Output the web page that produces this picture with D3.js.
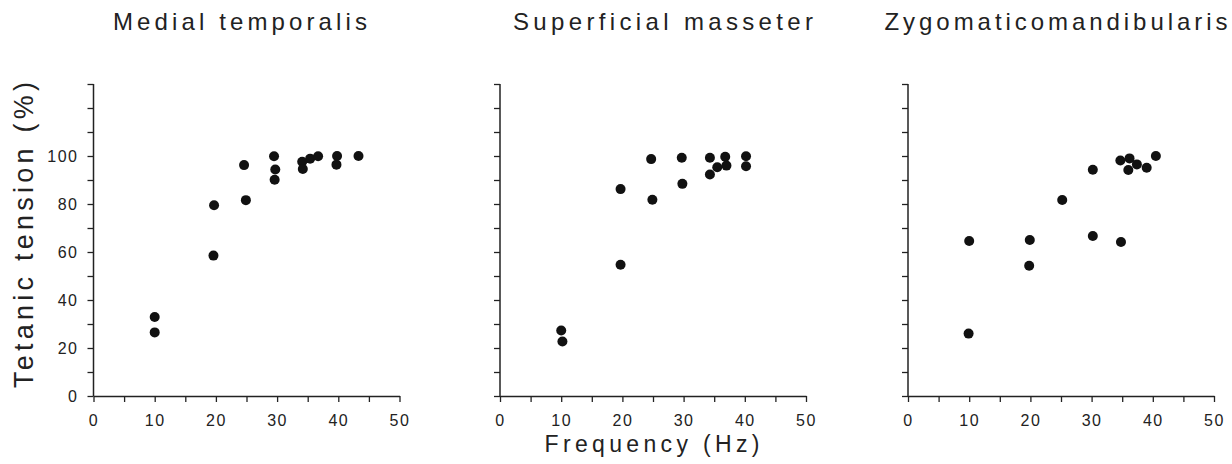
<!DOCTYPE html>
<html>
<head>
<meta charset="utf-8">
<script src="https://cdn.jsdelivr.net/npm/d3@7"></script>
<style>
  body { margin: 0; background: #fff; }
  svg text { font-family: "Liberation Sans", Arial, sans-serif; fill: #222; }
</style>
</head>
<body>
<svg id="chart" width="1232" height="464"></svg>
<script>
// panel titles
const titles = ['Medial temporalis', 'Superficial masseter', 'Zygomaticomandibularis'];

// Medial temporalis
const mtFreq    = [10, 10, 19.7, 19.6, 24.6, 24.9, 29.5, 29.7, 29.6, 34.1, 34.2, 35.4, 36.7, 39.8, 39.7, 43.3];
const mtTension = [32.9, 26.5, 79.5, 58.5, 96.2, 81.6, 99.9, 94.4, 90.1, 97.6, 94.6, 98.9, 99.9, 100, 96.4, 100];

// Superficial masseter
const smFreq    = [10, 10.2, 19.7, 19.7, 24.7, 24.9, 29.7, 29.8, 34.3, 34.3, 35.5, 36.8, 37.0, 40.2, 40.2];
const smTension = [27.3, 22.7, 86.2, 54.7, 98.7, 81.8, 99.3, 88.4, 99.3, 92.3, 95.3, 99.7, 96.0, 99.9, 95.7];

// Zygomaticomandibularis
const zmFreq    = [10, 9.9, 19.9, 19.8, 25.2, 30.2, 30.2, 34.8, 34.7, 36.2, 36.0, 37.4, 39.0, 40.5];
const zmTension = [64.6, 26.0, 65.0, 54.3, 81.7, 94.3, 66.7, 64.2, 98.1, 99.0, 94.2, 96.5, 95.1, 100];

const xTicks = d3.range(0, 51, 5);
const yTicks = d3.range(0, 131, 10);

const panels = [
  { title: titles[0], freq: mtFreq, tension: mtTension, left: 93.5, titleX: 240, yLabels: true },
  { title: titles[1], freq: smFreq, tension: smTension, left: 500, titleX: 663, yLabels: false },
  { title: titles[2], freq: zmFreq, tension: zmTension, left: 908, titleX: 1056, yLabels: false }
];

const svg = d3.select('#chart');
const plotTop = 84, plotBottom = 396, plotW = 306;

const y = d3.scaleLinear().domain([0, 130]).range([plotBottom, plotTop]);

panels.forEach(p => {
  const x = d3.scaleLinear().domain([0, 50]).range([p.left, p.left + plotW]);
  const g = svg.append('g');

  // y axis
  const yAxis = d3.axisLeft(y)
    .tickValues(yTicks)
    .tickSize(6)
    .tickSizeOuter(0)
    .tickPadding(9)
    .tickFormat(d => (p.yLabels && d <= 100 && d % 20 === 0) ? d : '');
  const ya = g.append('g').attr('transform', `translate(${p.left},0)`).call(yAxis);

  // x axis
  const xAxis = d3.axisBottom(x)
    .tickValues(xTicks)
    .tickSize(6)
    .tickSizeOuter(0)
    .tickPadding(13)
    .tickFormat(d => d % 10 === 0 ? d : '');
  const xa = g.append('g').attr('transform', `translate(0,${plotBottom})`).call(xAxis);

  [ya, xa].forEach(a => {
    a.select('.domain').attr('stroke', '#222').attr('stroke-width', 1.5);
    a.selectAll('.tick line').attr('stroke', '#222').attr('stroke-width', 1.3);
    a.selectAll('.tick text')
      .style('font-family', '"Liberation Sans", Arial, sans-serif')
      .style('font-size', '16px')
      .style('letter-spacing', '1.5px')
      .attr('fill', '#222');
  });
  // y axis top extends to 130
  ya.select('.domain').attr('d', `M0,${y(130)}V${plotBottom}`);

  // points
  g.selectAll('circle')
    .data(p.freq.map((f, i) => ({ f, t: p.tension[i] })))
    .enter()
    .append('circle')
    .attr('cx', d => x(d.f))
    .attr('cy', d => y(d.t))
    .attr('r', 5)
    .attr('fill', '#111');

  // title
  const tw = { 'Medial temporalis': 254, 'Superficial masseter': 300, 'Zygomaticomandibularis': 343 }[p.title];
  svg.append('text')
    .attr('x', p.titleX)
    .attr('y', 30)
    .attr('text-anchor', 'middle')
    .attr('textLength', tw)
    .attr('lengthAdjust', 'spacing')
    .style('font-size', '24px')
    .text(p.title);
});

// axis titles
svg.append('text')
  .attr('transform', 'translate(33,235) rotate(-90)')
  .attr('text-anchor', 'middle')
  .attr('textLength', 306)
  .attr('lengthAdjust', 'spacing')
  .style('font-size', '27px')
  .text('Tetanic tension (%)');

svg.append('text')
  .attr('x', 652)
  .attr('y', 452)
  .attr('text-anchor', 'middle')
  .attr('textLength', 215)
  .attr('lengthAdjust', 'spacing')
  .style('font-size', '23px')
  .text('Frequency (Hz)');
</script>
</body>
</html>
